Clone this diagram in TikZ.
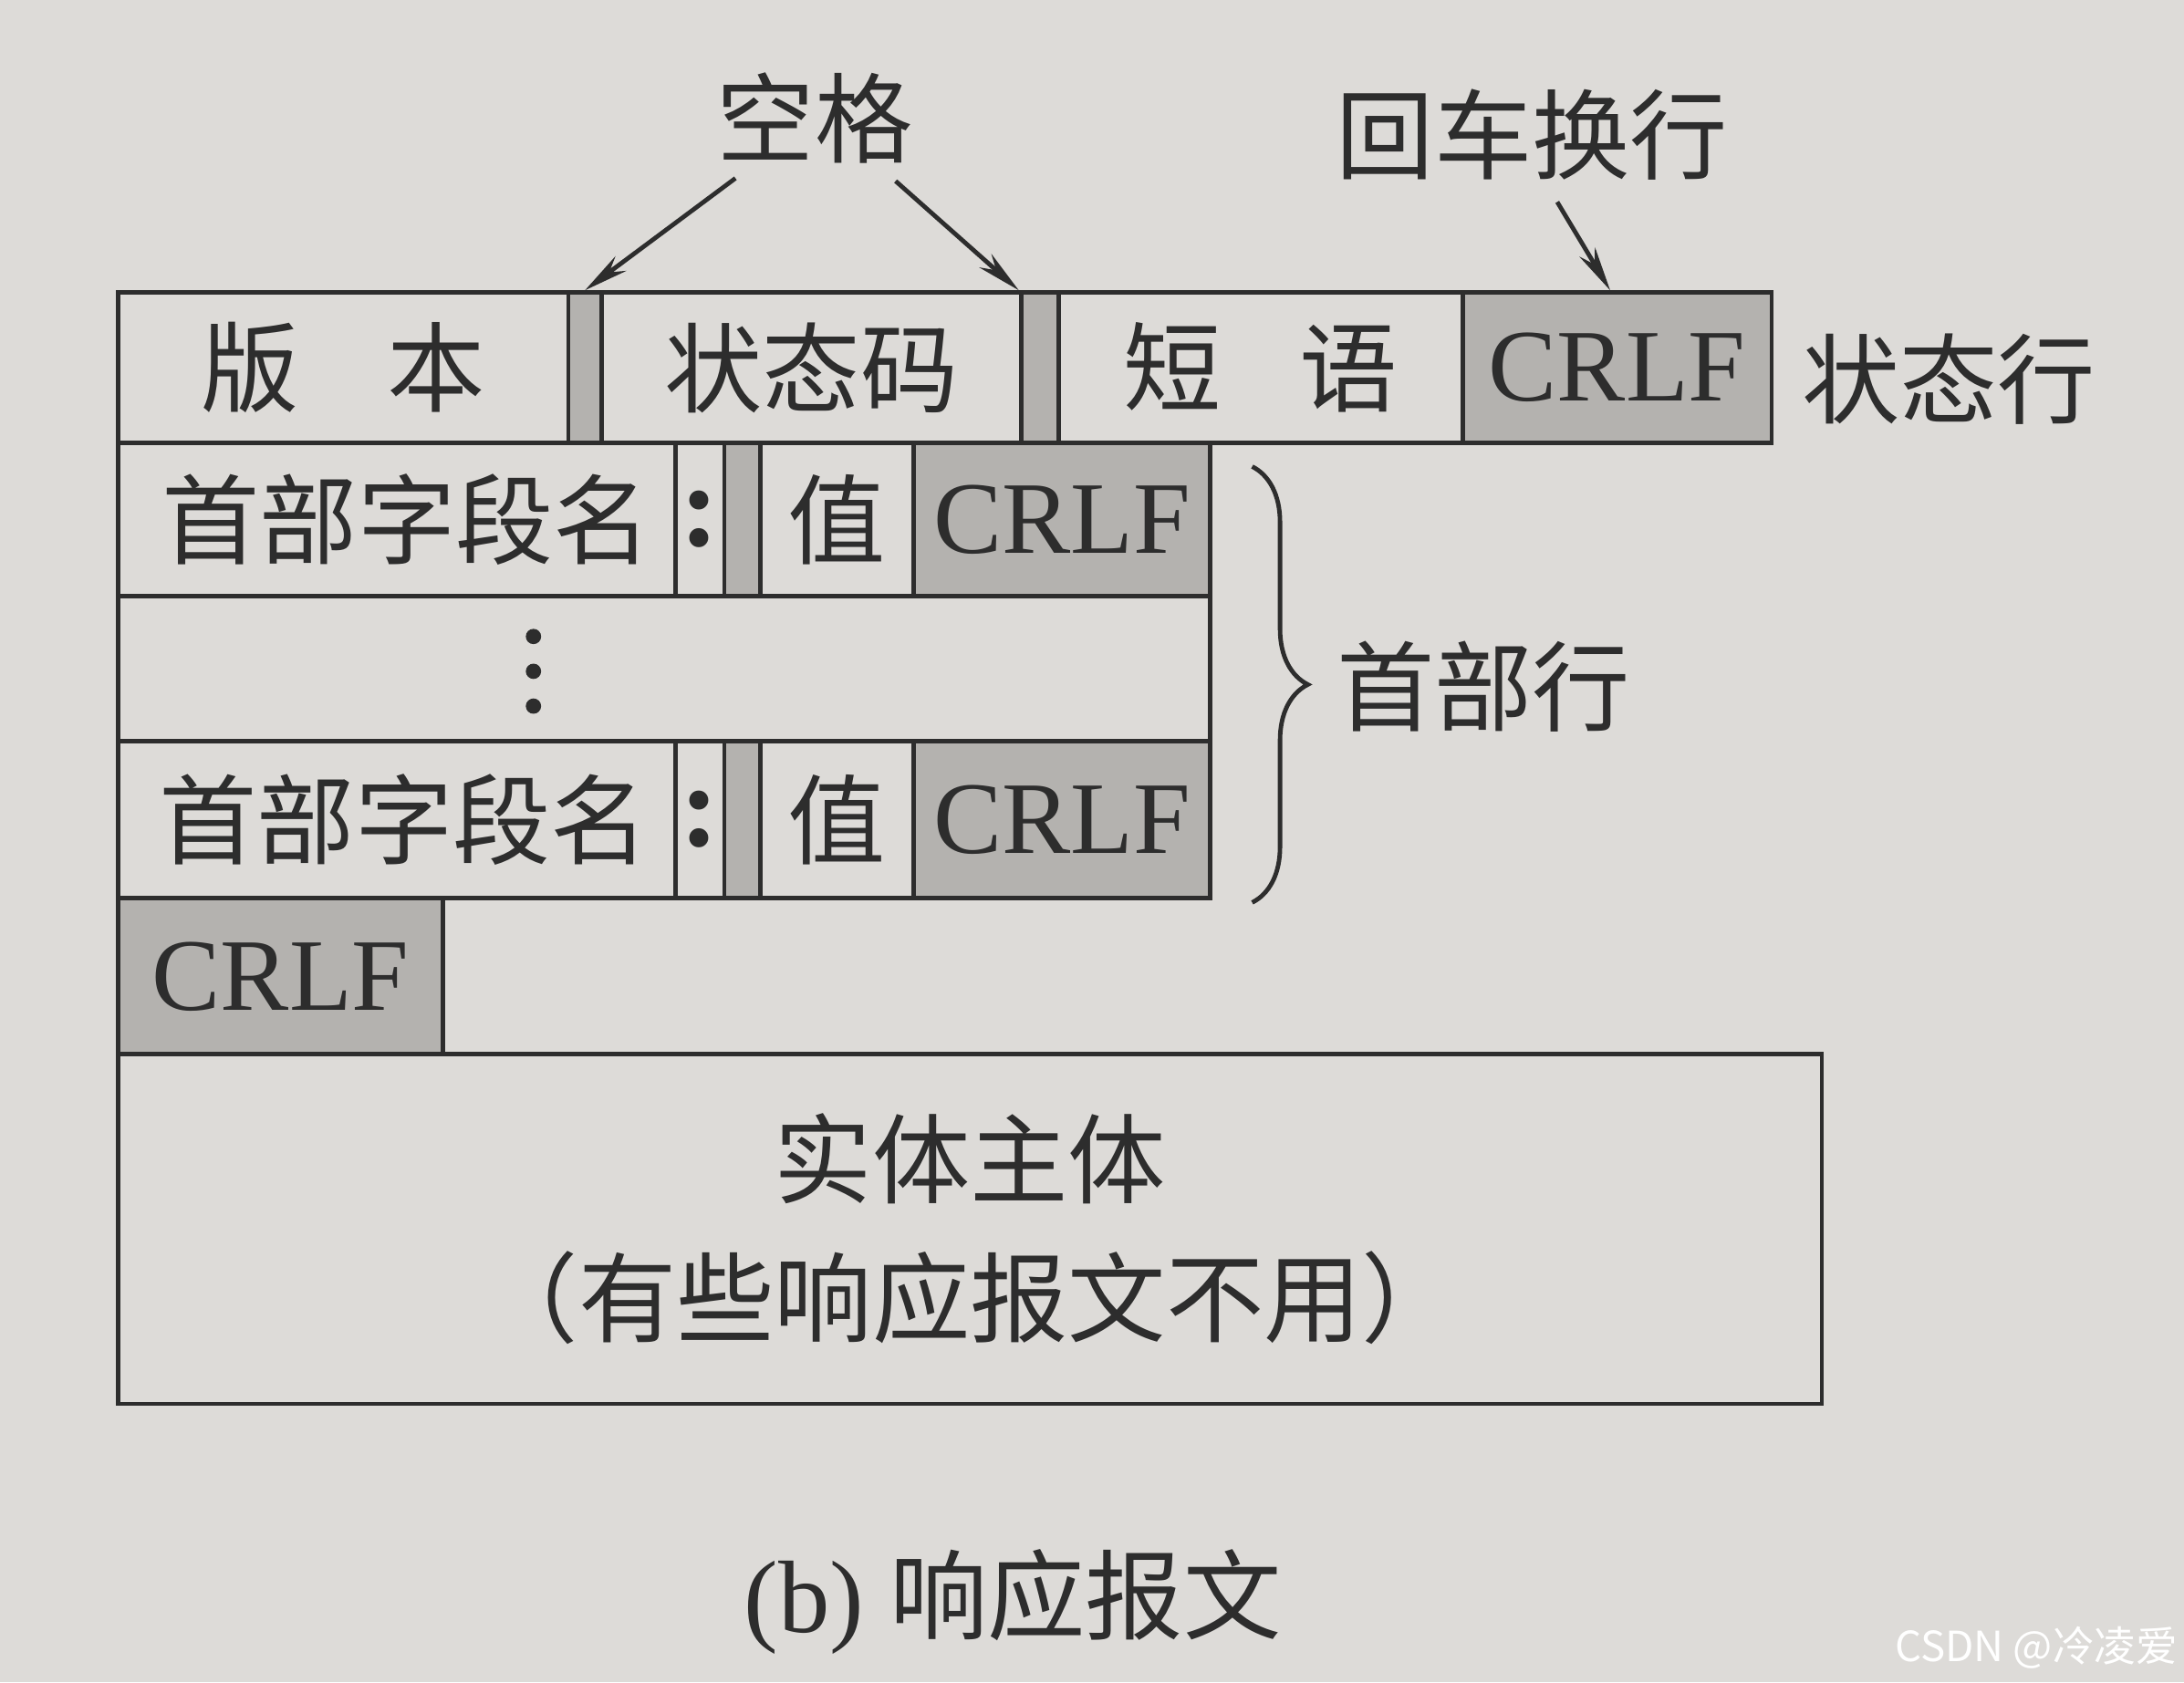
\documentclass[tikz,border=0pt]{standalone}
\usepackage{fontspec}
\setmainfont{Liberation Serif}
\newfontfamily\cjk{Noto Sans CJK SC}
\usetikzlibrary{fit,arrows.meta,decorations.pathreplacing}
\definecolor{paper}{RGB}{221,219,216}
\definecolor{shade}{RGB}{180,178,175}
\definecolor{ink}{RGB}{45,45,45}
\begin{document}
\begin{tikzpicture}[x=0.1mm,y=-0.1mm,
  box/.style={draw=ink, line width=0.9pt, inner sep=0pt, fill=paper},
  gbox/.style={box, fill=shade},
  cj/.style={font=\cjk\fontsize{20}{24}\selectfont, text=ink, inner sep=0pt},
  lat/.style={font=\fontsize{21}{24}\selectfont, text=ink, inner sep=0pt},
  colon/.style={font=\fontsize{24}{24}\selectfont\bfseries, text=ink, inner sep=0pt},
  arr/.style={draw=ink, line width=0.9pt, -{Stealth[length=3.2mm,width=1.3mm]}}]
\fill[paper] (0,0) rectangle (1568,1208);
\useasboundingbox (0,0) rectangle (1568,1208);

% status line
\node[box,  fit={(85,210)(408,318)}] (ver) {};
\node[gbox, fit={(408,210)(432,318)}] (sp1) {};
\node[box,  fit={(432,210)(733,318)}] (code) {};
\node[gbox, fit={(733,210)(760,318)}] (sp2) {};
\node[box,  fit={(760,210)(1050,318)}] (phr) {};
\node[gbox, fit={(1050,210)(1272,318)}] (crlfs) {};
\node[cj] (tver) at (ver.center) {版\hspace{0.9em}本};
\node[cj] (tcode) at (code.center) {状态码};
\node[cj] (tphr) at (phr.center) {短\hspace{0.8em}语};
\node[lat] (tcrlfs) at (crlfs.center) {CRLF};
\node[cj] (statl) at (1399,272) {状态行};

% header line 1
\node[box,  fit={(85,318)(485,428)}] (hn1) {};
\node[box,  fit={(485,318)(520,428)}] (hc1) {};
\node[gbox, fit={(520,318)(546,428)}] (hs1) {};
\node[box,  fit={(546,318)(656,428)}] (hv1) {};
\node[gbox, fit={(656,318)(869,428)}] (hr1) {};
\node[cj] (thn1) at ([xshift=0.7mm]hn1.center) {首部字段名};
\node[colon] (thc1) at (hc1.center) {:};
\node[cj] (thv1) at (hv1.center) {值};
\node[lat] (thr1) at (hr1.center) {CRLF};

% dots row
\node[box, fit={(85,428)(869,532)}] (dots) {};
\foreach \yy in {457,482,507} \fill[ink] (383,\yy) circle (0.55mm);

% header line 2
\node[box,  fit={(85,532)(485,645)}] (hn2) {};
\node[box,  fit={(485,532)(520,645)}] (hc2) {};
\node[gbox, fit={(520,532)(546,645)}] (hs2) {};
\node[box,  fit={(546,532)(656,645)}] (hv2) {};
\node[gbox, fit={(656,532)(869,645)}] (hr2) {};
\node[cj] (thn2) at ([xshift=0.5mm]hn2.center) {首部字段名};
\node[colon] (thc2) at (hc2.center) {:};
\node[cj] (thv2) at (hv2.center) {值};
\node[lat] (thr2) at (hr2.center) {CRLF};

% empty line CRLF
\node[gbox, fit={(85,645)(318,757)}] (crlfe) {};
\node[lat] (tcrlfe) at (crlfe.center) {CRLF};

% entity body
\node[box, fit={(85,757)(1308,1008)}] (body) {};
\node[cj, align=center] (tbody) at (body.center) {实体主体\\[1.5mm]（有些响应报文不用）};

% brace and label
\coordinate (brt) at (899,335);
\coordinate (brb) at (899,648);
\draw[ink, line width=0.9pt, decorate, decoration={brace, amplitude=4mm}] (brt) -- (brb);
\node[cj] (hdrl) at (1065,493) {首部行};

% top labels and arrows
\node[cj] (kg) at (585,85) {空格};
\node[cj] (hchl) at (1100,97) {回车换行};
\coordinate (kgl) at (528,128);
\coordinate (kgr) at (643,130);
\coordinate (hcs) at (1118,145);
\draw[arr] (kgl) -- (sp1.north);
\draw[arr] (kgr) -- (sp2.north west);
\draw[arr] (hcs) -- ([xshift=-0.5mm]crlfs.north);

% caption
\node[text=ink, inner sep=0pt] (cap) at (727,1150) {\fontsize{21}{24}\selectfont(b) {\cjk\fontsize{20}{24}\selectfont 响应报文}};

% watermark
\node[text=white, inner sep=0pt] (wm) at (1462,1183) {\cjk\fontsize{8.5}{10}\selectfont CSDN @冷凌爱};
\end{tikzpicture}
\end{document}
